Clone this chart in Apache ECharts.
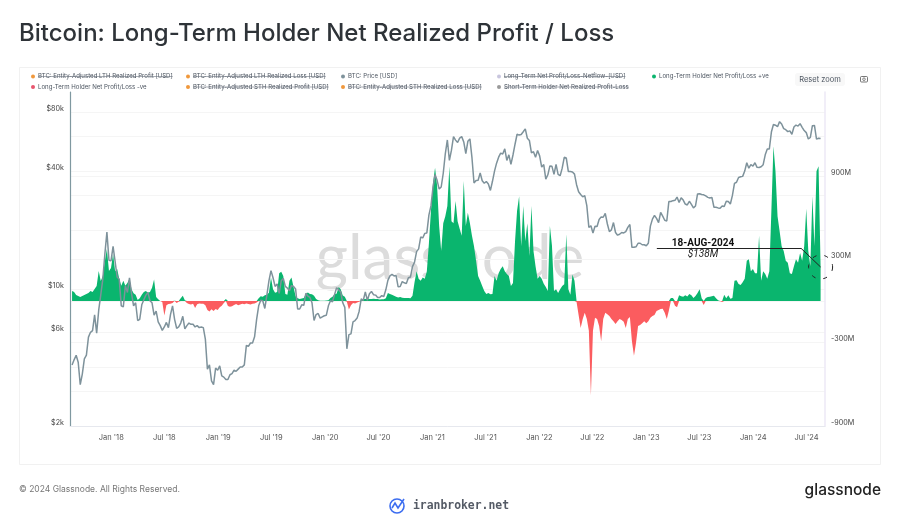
<!DOCTYPE html>
<html>
<head>
<meta charset="utf-8">
<title>Bitcoin: Long-Term Holder Net Realized Profit / Loss</title>
<style>
html,body{margin:0;padding:0;background:#fff;}
#chart{width:900px;height:518px;}
</style>
<script src="https://cdn.jsdelivr.net/npm/echarts@6/dist/echarts.min.js"></script>
</head>
<body>
<div id="chart"></div>
<script>
// weekly samples, first one is 2017-08-20, last one 2024-08-18
var firstWeek = Date.UTC(2017, 7, 20);
var weekMs = 7 * 24 * 3600 * 1000;

// BTC price [USD], one list per calendar year
var price2017 = [4090,4350,4590,4230,3250,3680,4400,4600,5680,6010,6130,7380,5950,7790,9330,11230,15050,19500,14000,13900];
var price2018 = [16500,13800,11500,11200,8200,8100,10400,9600,11400,9500,8200,8500,6900,7000,8300,8800,9300,9600,8700,8500,7350,7700,6800,6500,6150,6400,6750,6350,7400,8200,7000,6300,6400,6700,7250,6250,6500,6700,6600,6600,6400,6500,6350,6400,6350,5550,3900,4100,3400,3250,3950,3850];
var price2019 = [4050,3600,3550,3450,3450,3650,3700,3850,3800,3900,4000,4000,4100,5150,5100,5300,5300,5700,7000,8200,8750,8700,7950,9300,11000,12400,11400,10300,10600,9500,11000,11300,10300,10100,9800,10400,10300,10000,7900,7900,8300,8250,9500,9200,9050,8500,6900,7400,7500,7100,7200,7300];
var price2020 = [7350,8200,8700,8600,9350,10150,9900,9650,8500,8050,4950,5850,5900,6800,6900,7100,7700,8900,8750,9650,8750,9450,9700,9350,9300,9050,9050,9250,9150,9900,11050,11650,11850,11650,11700,10250,10300,10900,10750,10650,11400,11500,13000,13700,15500,16000,18400,18200,19200,19300,23800,26500];
var price2021 = [33000,38300,35800,32300,33100,38900,48900,57500,45200,51000,59800,57400,55800,58800,59800,56200,49000,56600,58200,46700,34700,35700,35800,39000,35600,34600,35300,34300,31800,35400,39900,43800,47000,49300,48800,51800,45200,48300,43200,48200,54700,61500,60900,61300,63300,65500,58700,57200,49400,50100,46900,50800];
var price2022 = [47700,41800,43100,36300,38200,42400,42200,38400,43200,38400,37800,41300,46900,46500,39700,39700,39500,38500,34000,31300,30300,29500,29900,26600,20600,21000,19300,20900,20800,22600,23300,23200,24300,21500,19600,20000,21800,19400,18800,19000,19400,19300,19600,20600,21300,16300,16300,16400,17100,17100,16800,16800];
var price2023 = [16600,17100,20900,22700,23700,22900,21800,24600,23500,22400,22200,27900,27900,28200,28300,29400,27600,29200,28400,27100,26800,28000,27000,25900,26500,30500,30600,30300,30200,29800,29300,29100,29300,26100,26100,25900,25800,26500,26300,28000,27900,27100,30000,34500,35000,37000,37300,37500,39900,44000,41300,43000,42300];
var price2024 = [44000,41700,41600,42000,43000,48300,51700,51700,63100,68900,68400,67200,71300,69400,65700,64900,63400,64000,61500,66900,68500,67700,69600,66700,64200,62700,58200,59200,68000,68200,58100,58700,58500];

// long-term holder net realized profit/loss [M USD]
var net2017 = [72,65,43,36,29,36,43,50,58,72,65,86,108,216,144,180,288,374,216,238];
var net2018 = [340,215,230,160,110,145,110,130,160,85,55,45,8,20,45,65,72,60,65,95,155,28,12,0,-8,-105,-30,-22,-20,-14,2,-15,-5,20,38,5,-15,-22,-25,-20,-50,-24,-18,-20,-20,-30,-65,-75,-60,-72,-58,-65];
var net2019 = [-45,-35,-15,15,-36,-42,-38,-28,-22,-30,-25,-20,-24,-18,-22,-25,-20,-18,-10,20,35,30,42,45,60,170,85,60,65,200,210,180,50,45,145,170,100,35,20,15,18,22,52,62,50,48,38,14,5,1,1,2];
var net2020 = [3,6,22,30,50,52,100,85,40,30,-6,-62,-30,-14,-18,-10,-5,6,15,14,20,15,15,16,14,14,10,12,12,20,58,50,45,38,30,25,28,24,22,22,22,20,38,135,215,160,145,170,160,215,415,650];
var net2021 = [850,960,830,540,360,560,610,685,970,575,560,720,575,520,470,865,540,635,560,470,395,290,180,145,108,72,50,58,48,50,180,145,200,230,250,215,195,180,108,130,430,650,755,395,685,430,560,325,685,360,250,160];
var net2022 = [180,160,125,100,72,540,400,72,85,58,85,108,120,480,85,45,190,145,-8,-100,-195,-130,-85,-130,-215,-680,-215,-120,-130,-180,-290,-130,-85,-95,-108,-130,-145,-165,-145,-130,-137,-150,-195,-130,-115,-290,-395,-300,-180,-172,-160,-145];
var net2023 = [-160,-145,-120,-108,-100,-72,-65,-58,-55,-85,-130,-70,22,22,-35,-45,42,35,30,42,32,50,42,22,36,58,85,20,-28,22,28,30,34,38,20,5,-2,-8,45,20,42,16,22,145,150,122,115,135,160,290,300,215,230];
var net2024 = [200,200,470,145,215,195,160,215,650,1115,935,610,505,395,360,290,275,200,195,250,300,275,345,290,395,665,360,250,755,395,935,970,245];

// axis ticks
var priceLabels = [80000,40000,10000,6000,2000];
var priceGrid = [80000,60000,40000,30000,20000,10000,6000,4000,3000,2000];
var netLabels = [900,300,-300,-900];
var netGrid = [900,300,0,-300,-900];
var dateLabels = ['2018-01-01','2018-07-01','2019-01-01','2019-07-01','2020-01-01','2020-07-01','2021-01-01','2021-07-01','2022-01-01','2022-07-01','2023-01-01','2023-07-01','2024-01-01','2024-07-01'];
var monthNames = ['Jan','Feb','Mar','Apr','May','Jun','Jul','Aug','Sep','Oct','Nov','Dec'];

// legend, row by row. off = struck through in the original
var legendRow1 = ['BTC: Entity-Adjusted LTH Realized Profit [USD]','BTC: Entity-Adjusted LTH Realized Loss [USD]','BTC: Price [USD]','Long-Term Net Profit/Loss-Netflow-[USD]','Long-Term Holder Net Profit/Loss +ve'];
var legendRow2 = ['Long-Term Holder Net Profit/Loss -ve','BTC: Entity-Adjusted STH Realized Profit [USD]','BTC: Entity-Adjusted STH Realized Loss [USD]','Short-Term Holder Net Realized Profit-Loss'];
var legendOff1 = [true,true,false,true,false];
var legendOff2 = [false,true,true,true];
var legendColor1 = ['#f0983c','#f0983c','#7e929b','#c9c6de','#0ab56e'];
var legendColor2 = ['#e8566e','#f0983c','#f0983c','#9a9a9a'];
var legendX1 = [33,188,343,499,654];
var legendX2 = [33,188,343,499];

var uiFont = 'Inter, "Noto Sans", sans-serif';

var price = price2017.concat(price2018, price2019, price2020, price2021, price2022, price2023, price2024);
var net = net2017.concat(net2018, net2019, net2020, net2021, net2022, net2023, net2024);

function weekOf(i) { return firstWeek + i * weekMs; }
var priceData = price.map(function (v, i) { return [weekOf(i), v]; });
var posData = net.map(function (v, i) { return [weekOf(i), Math.max(v, 0)]; });
var negData = net.map(function (v, i) { return [weekOf(i), Math.min(v, 0)]; });
var lastWeek = weekOf(net.length - 1);
var lastNet = net[net.length - 1];

var measure = document.createElement('canvas').getContext('2d');
measure.font = '6.1px Inter';

function legendItems(labels, xs, colors, offs, y) {
    var out = [];
    labels.forEach(function (name, i) {
        out.push({type:'circle', shape:{cx:xs[i], cy:y, r:2}, style:{fill:colors[i]}, silent:true});
        out.push({type:'text', x:xs[i] + 5, y:y, style:{text:name, font:'6.1px ' + uiFont, fill:'#4c5560', textVerticalAlign:'middle'}, silent:true});
        if (offs[i]) {
            var w = measure.measureText(name).width;
            out.push({type:'line', shape:{x1:xs[i] + 5, y1:y, x2:xs[i] + 5 + w, y2:y}, style:{stroke:'#6c7480', lineWidth:0.6}, silent:true});
        }
    });
    return out;
}

var graphics = [
    // panel
    {type:'rect', shape:{x:19.5, y:67.5, width:861, height:397}, style:{fill:'none', stroke:'#f1f1f1', lineWidth:1}, silent:true, z:-2},
    {type:'text', x:19, y:33.5, style:{text:'Bitcoin: Long-Term Holder Net Realized Profit / Loss', font:'500 24px ' + uiFont, fill:'#2e3338', textVerticalAlign:'middle'}, silent:true},
    // watermark
    {type:'text', x:450, y:259, z:-1, style:{text:'glassnode', font:'400 62px Lato, ' + uiFont, fill:'#dcdcdc', textAlign:'center', textVerticalAlign:'middle'}, silent:true},
    // reset zoom + camera
    {type:'rect', shape:{x:795, y:73, width:50, height:13, r:3}, style:{fill:'#f8f8f8'}, silent:true},
    {type:'text', x:820, y:79.5, style:{text:'Reset zoom', font:'7.5px ' + uiFont, fill:'#4c5560', textAlign:'center', textVerticalAlign:'middle'}, silent:true},
    {type:'rect', shape:{x:860.5, y:76.5, width:7, height:5.5, r:1}, style:{fill:'none', stroke:'#555', lineWidth:0.8}, silent:true},
    {type:'circle', shape:{cx:864, cy:79.2, r:1.3}, style:{fill:'none', stroke:'#555', lineWidth:0.7}, silent:true},
    // annotation text
    {type:'text', x:703, y:243, style:{text:'18-AUG-2024', font:'bold 10px Roboto, sans-serif', fill:'#111', textAlign:'center', textVerticalAlign:'middle'}, silent:true},
    {type:'text', x:703, y:254, style:{text:'$138M', font:'italic 10px Roboto, sans-serif', fill:'#222', textAlign:'center', textVerticalAlign:'middle'}, silent:true},
    // footer
    {type:'text', x:19, y:489, style:{text:'© 2024 Glassnode. All Rights Reserved.', font:'8.5px ' + uiFont, fill:'#777', textVerticalAlign:'middle'}, silent:true},
    {type:'text', x:881, y:490, style:{text:'glassnode', font:'500 15.5px ' + uiFont, fill:'#222', textAlign:'right', textVerticalAlign:'middle'}, silent:true},
    {type:'text', x:413, y:506, style:{text:'iranbroker.net', font:'bold 11.4px "DejaVu Sans Mono", monospace', fill:'#555b66', textVerticalAlign:'middle'}, silent:true},
    {type:'circle', shape:{cx:397, cy:506, r:7}, style:{fill:'none', stroke:'#3c6df0', lineWidth:1.6}, silent:true},
    {type:'polyline', shape:{points:[[392,508],[395,503],[398,508],[404,499]]}, style:{fill:'none', stroke:'#3c6df0', lineWidth:1.6}, silent:true}
].concat(
    legendItems(legendRow1, legendX1, legendColor1, legendOff1, 76.5),
    legendItems(legendRow2, legendX2, legendColor2, legendOff2, 87)
);

var myChart = echarts.init(document.getElementById('chart'));
var option = {
    animation: false,
    backgroundColor: '#fff',
    textStyle: {fontFamily: uiFont},
    graphic: graphics,
    grid: {left: 70, right: 75, top: 92, bottom: 92},
    xAxis: {
        type: 'value',
        min: Date.UTC(2017, 7, 13),
        max: Date.UTC(2024, 8, 2),
        axisLine: {onZero: false, lineStyle: {color: '#e6e8ee'}},
        axisTick: {show: false},
        splitLine: {show: false},
        axisLabel: {
            customValues: dateLabels.map(function (d) { return new Date(d + 'T00:00:00Z').getTime(); }),
            fontSize: 7.5,
            color: '#555',
            margin: 8,
            formatter: function (v) {
                var d = new Date(v);
                return monthNames[d.getUTCMonth()] + " '" + String(d.getUTCFullYear()).slice(2);
            }
        }
    },
    yAxis: [{
        type: 'log',
        logBase: 2,
        min: 2000,
        max: 101000,
        position: 'left',
        axisLine: {show: true, lineStyle: {color: '#7f98a0', width: 1.2}},
        axisTick: {show: false, customValues: priceGrid},
        splitLine: {show: true, lineStyle: {color: '#f5f5f5'}},
        axisLabel: {
            customValues: priceLabels,
            fontSize: 7.2,
            color: '#444',
            margin: 6,
            verticalAlign: 'bottom',
            formatter: function (v) { return '$' + Math.round(v / 1000) + 'k'; }
        }
    }, {
        type: 'value',
        min: -900,
        max: 1505,
        position: 'right',
        axisLine: {show: true, lineStyle: {color: '#ece9f6', width: 1.5}},
        axisTick: {show: false, customValues: netGrid},
        splitLine: {show: true, lineStyle: {color: '#f5f5f5'}},
        axisLabel: {
            customValues: netLabels,
            fontSize: 7.2,
            color: '#444',
            margin: 6,
            verticalAlign: 'bottom',
            formatter: function (v) { return v + 'M'; }
        }
    }],
    series: [{
        name: 'Long-Term Holder Net Profit/Loss +ve',
        type: 'line',
        yAxisIndex: 1,
        data: posData,
        showSymbol: false,
        lineStyle: {width: 0},
        areaStyle: {color: '#0ab56e', opacity: 1},
        z: 2,
        // leader line and dashed ring of the latest value
        markLine: {
            silent: true,
            symbol: 'none',
            animation: false,
            label: {show: false},
            lineStyle: {color: '#222', type: 'solid', width: 1},
            data: [
                [{coord: [Date.UTC(2023, 1, 6), 380]}, {coord: [Date.UTC(2024, 5, 12), 380]}],
                [{coord: [Date.UTC(2024, 5, 12), 380]}, {coord: [lastWeek, lastNet]}]
            ]
        },
        markPoint: {
            silent: true,
            symbol: 'circle',
            symbolSize: 24,
            label: {show: false},
            itemStyle: {color: 'rgba(0,0,0,0)', borderColor: '#222', borderWidth: 1, borderType: [4, 8]},
            data: [{coord: [lastWeek, lastNet]}]
        }
    }, {
        name: 'Long-Term Holder Net Profit/Loss -ve',
        type: 'line',
        yAxisIndex: 1,
        data: negData,
        showSymbol: false,
        lineStyle: {width: 0},
        areaStyle: {color: '#fb5c5f', opacity: 1},
        z: 2
    }, {
        name: 'BTC: Price [USD]',
        type: 'line',
        yAxisIndex: 0,
        data: priceData,
        showSymbol: false,
        lineStyle: {color: '#7e929b', width: 1.5},
        z: 3
    }]
};
myChart.setOption(option);
</script>
</body>
</html>
